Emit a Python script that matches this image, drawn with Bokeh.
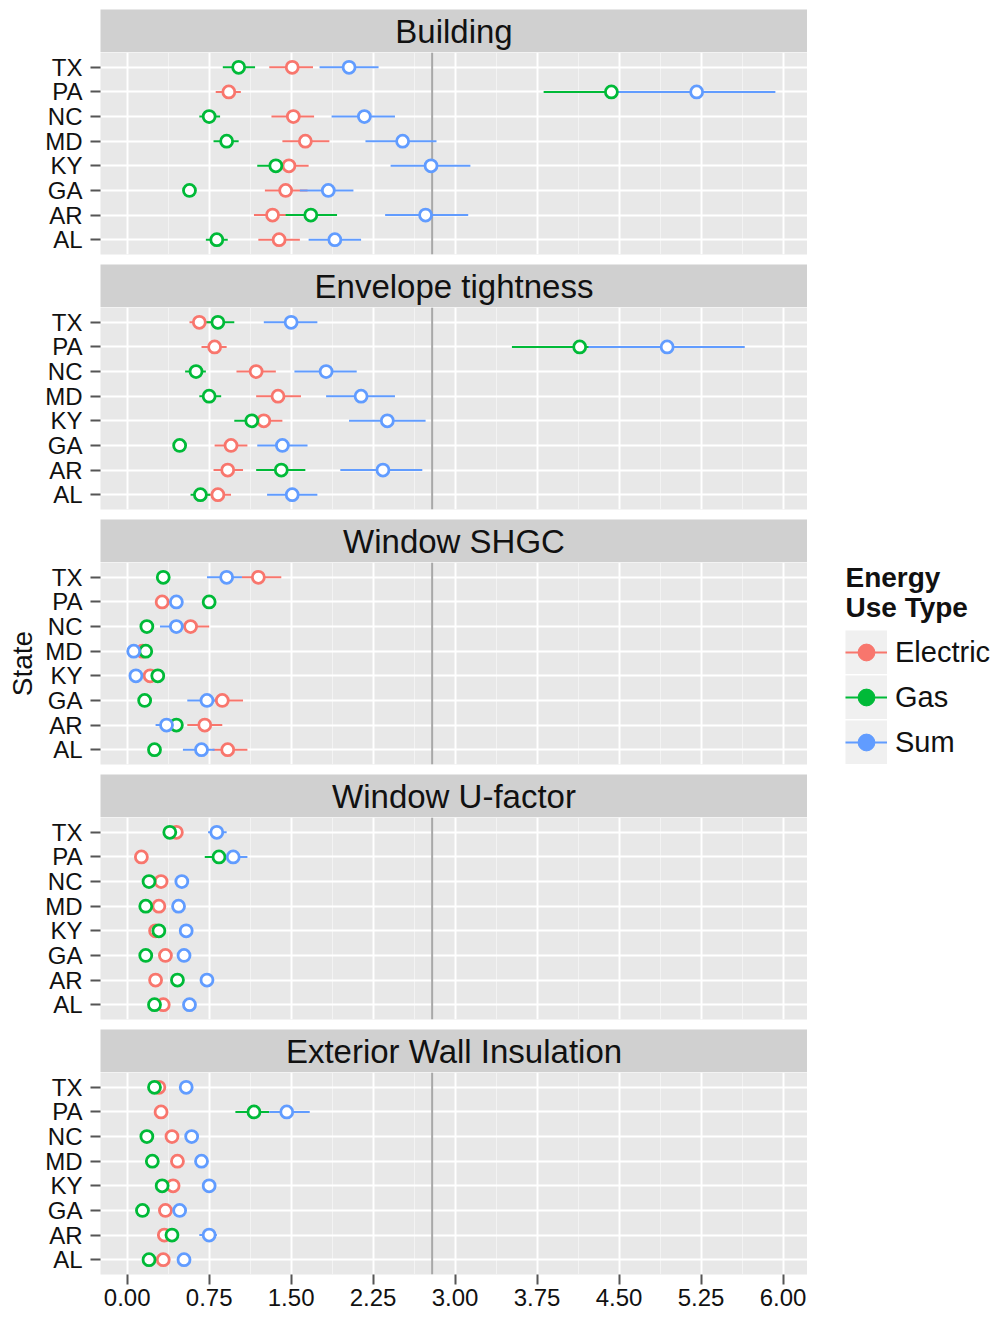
from bokeh.plotting import figure
from bokeh.layouts import column, row
from bokeh.models import (Range1d, FixedTicker, Grid, Span, Legend, LegendItem,
                          Label, NumeralTickFormatter)
from bokeh.embed import file_html
from bokeh.resources import INLINE
from bokeh.core.properties import value

FONT = "Liberation Sans"

states = ["TX", "PA", "NC", "MD", "KY", "GA", "AR", "AL"]
measures = ["Building", "Envelope tightness", "Window SHGC", "Window U-factor",
            "Exterior Wall Insulation"]
types = ["Electric", "Gas", "Sum"]
colors = ["#F8766D", "#00BA38", "#619CFF"]
x_ticks = [0.0, 0.75, 1.5, 2.25, 3.0, 3.75, 4.5, 5.25, 6.0]
x_minor_ticks = [0.375, 1.125, 1.875, 2.625, 3.375, 4.125, 4.875, 5.625]
ref_line = 2.79

# ---- Building ----
bld_elec = [1.51, 0.93, 1.52, 1.63, 1.48, 1.45, 1.33, 1.39]
bld_elec_lo = [1.30, 0.81, 1.32, 1.42, 1.30, 1.26, 1.16, 1.20]
bld_elec_hi = [1.70, 1.04, 1.71, 1.85, 1.66, 1.65, 1.50, 1.58]
bld_gas = [1.02, 4.43, 0.75, 0.91, 1.36, 0.57, 1.68, 0.82]
bld_gas_lo = [0.875, 3.81, 0.66, 0.79, 1.19, 0.53, 1.45, 0.72]
bld_gas_hi = [1.17, 5.05, 0.85, 1.02, 1.52, 0.61, 1.92, 0.92]
bld_sum = [2.03, 5.21, 2.17, 2.52, 2.78, 1.84, 2.73, 1.90]
bld_sum_lo = [1.76, 4.45, 1.87, 2.18, 2.41, 1.58, 2.36, 1.66]
bld_sum_hi = [2.30, 5.93, 2.45, 2.83, 3.14, 2.07, 3.12, 2.14]

# ---- Envelope tightness ----
env_elec = [0.66, 0.80, 1.18, 1.38, 1.25, 0.95, 0.92, 0.83]
env_elec_lo = [0.57, 0.68, 1.00, 1.18, 1.10, 0.80, 0.79, 0.74]
env_elec_hi = [0.76, 0.91, 1.36, 1.59, 1.42, 1.10, 1.06, 0.95]
env_gas = [0.83, 4.14, 0.63, 0.75, 1.14, 0.48, 1.41, 0.67]
env_gas_lo = [0.70, 3.52, 0.53, 0.66, 0.98, 0.44, 1.18, 0.58]
env_gas_hi = [0.98, 4.70, 0.72, 0.86, 1.28, 0.52, 1.63, 0.76]
env_sum = [1.50, 4.94, 1.82, 2.14, 2.38, 1.42, 2.34, 1.51]
env_sum_lo = [1.25, 4.22, 1.53, 1.82, 2.03, 1.19, 1.95, 1.28]
env_sum_hi = [1.74, 5.65, 2.10, 2.45, 2.73, 1.65, 2.70, 1.74]

# ---- Window SHGC ----
shgc_elec = [1.20, 0.32, 0.58, 0.14, 0.21, 0.87, 0.71, 0.92]
shgc_elec_lo = [1.05, 0.28, 0.48, 0.11, 0.17, 0.75, 0.55, 0.78]
shgc_elec_hi = [1.41, 0.36, 0.75, 0.17, 0.25, 1.06, 0.87, 1.10]
shgc_gas = [0.33, 0.75, 0.18, 0.17, 0.28, 0.16, 0.45, 0.25]
shgc_gas_lo = [0.30, 0.71, 0.15, 0.14, 0.25, 0.13, 0.41, 0.22]
shgc_gas_hi = [0.36, 0.79, 0.21, 0.20, 0.31, 0.19, 0.49, 0.28]
shgc_sum = [0.91, 0.45, 0.45, 0.06, 0.08, 0.73, 0.36, 0.68]
shgc_sum_lo = [0.73, 0.41, 0.30, 0.05, 0.06, 0.55, 0.26, 0.51]
shgc_sum_hi = [1.05, 0.49, 0.58, 0.08, 0.11, 0.87, 0.45, 0.80]

# ---- Window U-factor ----
uf_elec = [0.45, 0.13, 0.31, 0.29, 0.26, 0.35, 0.26, 0.33]
uf_elec_lo = [0.42, 0.10, 0.28, 0.26, 0.23, 0.32, 0.23, 0.30]
uf_elec_hi = [0.48, 0.16, 0.34, 0.32, 0.29, 0.38, 0.29, 0.36]
uf_gas = [0.39, 0.84, 0.20, 0.17, 0.29, 0.17, 0.46, 0.25]
uf_gas_lo = [0.36, 0.71, 0.17, 0.14, 0.26, 0.14, 0.43, 0.22]
uf_gas_hi = [0.42, 0.92, 0.23, 0.20, 0.32, 0.20, 0.49, 0.28]
uf_sum = [0.82, 0.97, 0.50, 0.47, 0.54, 0.52, 0.73, 0.57]
uf_sum_lo = [0.74, 0.88, 0.47, 0.44, 0.51, 0.49, 0.70, 0.54]
uf_sum_hi = [0.91, 1.10, 0.53, 0.50, 0.57, 0.55, 0.76, 0.60]

# ---- Exterior Wall Insulation ----
wall_elec = [0.29, 0.31, 0.41, 0.46, 0.42, 0.35, 0.34, 0.33]
wall_elec_lo = [0.26, 0.28, 0.38, 0.43, 0.39, 0.32, 0.31, 0.30]
wall_elec_hi = [0.32, 0.34, 0.44, 0.49, 0.45, 0.38, 0.37, 0.36]
wall_gas = [0.25, 1.16, 0.18, 0.23, 0.32, 0.14, 0.41, 0.20]
wall_gas_lo = [0.22, 0.99, 0.15, 0.20, 0.29, 0.11, 0.38, 0.17]
wall_gas_hi = [0.28, 1.30, 0.21, 0.26, 0.35, 0.17, 0.44, 0.23]
wall_sum = [0.54, 1.46, 0.59, 0.68, 0.75, 0.48, 0.75, 0.52]
wall_sum_lo = [0.51, 1.30, 0.56, 0.65, 0.72, 0.45, 0.66, 0.49]
wall_sum_hi = [0.57, 1.67, 0.62, 0.71, 0.78, 0.51, 0.82, 0.55]

data = {
    "Building": [(bld_elec, bld_elec_lo, bld_elec_hi), (bld_gas, bld_gas_lo, bld_gas_hi),
                 (bld_sum, bld_sum_lo, bld_sum_hi)],
    "Envelope tightness": [(env_elec, env_elec_lo, env_elec_hi), (env_gas, env_gas_lo, env_gas_hi),
                           (env_sum, env_sum_lo, env_sum_hi)],
    "Window SHGC": [(shgc_elec, shgc_elec_lo, shgc_elec_hi), (shgc_gas, shgc_gas_lo, shgc_gas_hi),
                    (shgc_sum, shgc_sum_lo, shgc_sum_hi)],
    "Window U-factor": [(uf_elec, uf_elec_lo, uf_elec_hi), (uf_gas, uf_gas_lo, uf_gas_hi),
                        (uf_sum, uf_sum_lo, uf_sum_hi)],
    "Exterior Wall Insulation": [(wall_elec, wall_elec_lo, wall_elec_hi),
                                 (wall_gas, wall_gas_lo, wall_gas_hi),
                                 (wall_sum, wall_sum_lo, wall_sum_hi)],
}

# ggplot-like 5% expansion of the continuous x scale
all_lo = min(min(t[1]) for m in data.values() for t in m)
all_hi = max(max(t[2]) for m in data.values() for t in m)
span = all_hi - all_lo
xr = Range1d(all_lo - 0.05 * span, all_hi + 0.05 * span)

n = len(states)
ypos = [n - i for i in range(n)]          # TX on top, AL at bottom
yr_start, yr_end = 1 - 0.6, n + 0.6

FRAME_W = 707
LEFT = 100
TOP = 9
STRIP_H = 43
PANEL_H = 202
GAP = 10
BOTTOM = 41
TEXT_COL = "#111111"

xticker = FixedTicker(ticks=x_ticks, minor_ticks=x_minor_ticks)
yticker = FixedTicker(ticks=ypos, minor_ticks=[])

children = []
for i, name in enumerate(measures):
    last = i == len(measures) - 1
    # strip
    s = figure(frame_width=FRAME_W, frame_height=STRIP_H, x_range=xr, y_range=Range1d(0, 1),
               x_axis_location=None, y_axis_location=None, toolbar_location=None,
               output_backend="svg", min_border=0, min_border_left=LEFT, min_border_right=0,
               min_border_top=TOP if i == 0 else 0, min_border_bottom=0,
               background_fill_color="#d0d0d0", border_fill_color="white",
               outline_line_color=None)
    s.center = [c for c in s.center if not isinstance(c, Grid)]
    s.text(x=[(xr.start + xr.end) / 2], y=[0.5], text=[name], text_align="center",
           text_baseline="middle", text_font=value(FONT), text_font_size="33px",
           text_color=TEXT_COL)
    children.append(s)

    p = figure(frame_width=FRAME_W, frame_height=PANEL_H, x_range=xr,
               y_range=Range1d(yr_start, yr_end),
               x_axis_location="below" if last else None, y_axis_location="left",
               toolbar_location=None, output_backend="svg",
               min_border=0, min_border_left=LEFT, min_border_right=0, min_border_top=0,
               min_border_bottom=BOTTOM if last else GAP,
               background_fill_color="#e8e8e8", border_fill_color="white",
               outline_line_color=None)
    p.center = [c for c in p.center if not isinstance(c, Grid)]
    p.add_layout(Grid(dimension=0, ticker=xticker, grid_line_color="white", grid_line_width=2,
                      minor_grid_line_color="#f3f3f3", minor_grid_line_width=1))
    p.add_layout(Grid(dimension=1, ticker=yticker, grid_line_color="white", grid_line_width=2))
    p.add_layout(Span(location=ref_line, dimension="height", line_color="#a8a8a8",
                      line_width=2, level="underlay"))

    yax = p.yaxis[0]
    yax.ticker = yticker
    yax.major_label_overrides = {ypos[k]: states[k] for k in range(n)}
    yax.axis_line_color = None
    yax.minor_tick_line_color = None
    yax.major_tick_in = 0
    yax.major_tick_out = 10
    yax.major_tick_line_color = "#555555"
    yax.major_tick_line_width = 2
    yax.major_label_standoff = 8
    yax.major_label_text_font = FONT
    yax.major_label_text_font_size = "24px"
    yax.major_label_text_color = TEXT_COL
    if i == 2:
        yax.axis_label = "State"
        yax.axis_label_text_font = FONT
        yax.axis_label_text_font_size = "28px"
        yax.axis_label_text_font_style = "normal"
        yax.axis_label_text_color = TEXT_COL
        yax.axis_label_standoff = 4
    if last:
        xax = p.xaxis[0]
        xax.ticker = xticker
        xax.formatter = NumeralTickFormatter(format="0.00")
        xax.axis_line_color = None
        xax.minor_tick_line_color = None
        xax.major_tick_in = 0
        xax.major_tick_out = 10
        xax.major_tick_line_color = "#555555"
        xax.major_tick_line_width = 2
        xax.major_label_standoff = 4
        xax.major_label_text_font = FONT
        xax.major_label_text_font_size = "24px"
        xax.major_label_text_color = TEXT_COL

    vals = data[name]
    for (v, lo, hi), c in zip(vals, colors):
        p.segment(x0=lo, x1=hi, y0=ypos, y1=ypos, line_color=c, line_width=2)
    for (v, lo, hi), c in zip(vals, colors):
        p.scatter(x=v, y=ypos, marker="circle", size=12, fill_color="white",
                  line_color=c, line_width=2.8)
    children.append(p)

panels = column(*children, spacing=0)

TOTAL_H = TOP + len(measures) * STRIP_H + (len(measures) - 1) * (PANEL_H + GAP) + PANEL_H + BOTTOM
LEG_W = 186
OY = -2  # fine alignment of the legend block
lg = figure(width=LEG_W, height=TOTAL_H, x_range=Range1d(0, LEG_W), y_range=Range1d(0, TOTAL_H),
            x_axis_location=None, y_axis_location=None, toolbar_location=None,
            output_backend="svg", min_border=0, outline_line_color=None,
            background_fill_color="white", border_fill_color="white")
lg.center = [c for c in lg.center if not isinstance(c, Grid)]

# legend-only renderers, placed outside the visible range
items = []
for t, c in zip(types, colors):
    bg = lg.line(x=[-1000, -999], y=[-1000, -1000], line_color="#f0f0f0", line_width=44,
                 line_cap="butt")
    ln = lg.line(x=[-1000, -999], y=[-1000, -1000], line_color=c, line_width=2)
    dot = lg.scatter(x=[-1000], y=[-1000], marker="circle", size=14, fill_color=c, line_color=c)
    items.append(LegendItem(label=t, renderers=[bg, ln, dot]))

leg = Legend(items=items, location=(38, TOTAL_H - (762 - OY)), padding=0, margin=0, spacing=1,
             glyph_width=42, glyph_height=44, label_standoff=8,
             label_text_font=FONT, label_text_font_size="29px", label_text_color=TEXT_COL,
             border_line_color=None, background_fill_alpha=0)
lg.add_layout(leg)

for txt, py in [("Energy", 578), ("Use Type", 608)]:
    lg.add_layout(Label(x=38, y=TOTAL_H - (py - 1), text=txt, text_font=FONT,
                        text_font_size="28px", text_font_style="bold",
                        text_baseline="middle", text_color=TEXT_COL))

layout = row(panels, lg, spacing=0)

with open("out.html", "w") as f:
    f.write(file_html(layout, INLINE))
